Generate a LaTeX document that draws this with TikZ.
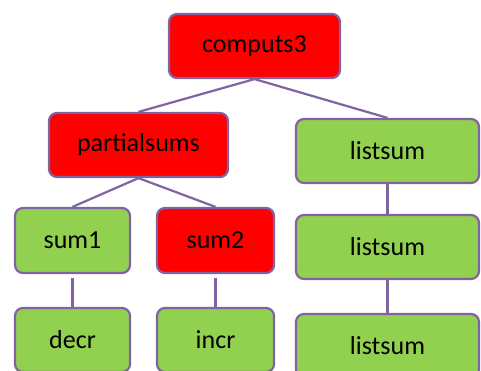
\documentclass[tikz,border=0pt]{standalone}
\usepackage{fontspec}
\setmainfont{Carlito}
\definecolor{edgepurple}{HTML}{8064A2}
\definecolor{boxgreen}{HTML}{92D050}
\definecolor{boxred}{HTML}{FF0000}
\begin{document}
\begin{tikzpicture}[x=1pt,y=-1pt,
  box/.style={draw=edgepurple,line width=2.2pt,rounded corners=8pt,inner sep=0pt,
    font=\fontsize{26}{30}\selectfont},
  redbox/.style={box,fill=boxred},
  greenbox/.style={box,fill=boxgreen},
  link/.style={draw=edgepurple,line width=2.2pt}]
\useasboundingbox (0,0) rectangle (481,371);
\node[redbox,minimum width=171pt,minimum height=64pt] (c3) at (254.5,46) {computs3};
\node[redbox,minimum width=179pt,minimum height=64pt] (ps) at (138.5,145) {partialsums};
\node[greenbox,minimum width=183pt,minimum height=64pt] (ls1) at (387.5,151) {listsum};
\node[greenbox,minimum width=115pt,minimum height=65pt] (s1) at (72.5,240.5) {sum1};
\node[redbox,minimum width=117pt,minimum height=65pt] (s2) at (215.5,240.5) {sum2};
\node[greenbox,minimum width=183pt,minimum height=64pt] (ls2) at (387.5,247) {listsum};
\node[greenbox,minimum width=115pt,minimum height=64pt] (dc) at (72.5,340) {decr};
\node[greenbox,minimum width=117pt,minimum height=64pt] (ic) at (215.5,340) {incr};
\node[greenbox,minimum width=183pt,minimum height=64pt] (ls3) at (387.5,346) {listsum};
\draw[link] (c3.south) -- (ps.north);
\draw[link] (c3.south) -- (ls1.north);
\draw[link] (ps.south) -- (s1.north);
\draw[link] (ps.south) -- (s2.north);
\draw[link,shorten <=4pt] (s1.south) -- (dc.north);
\draw[link,shorten <=4pt] (s2.south) -- (ic.north);
\draw[link] (ls1.south) -- (ls2.north);
\draw[link] (ls2.south) -- (ls3.north);
\end{tikzpicture}
\end{document}
